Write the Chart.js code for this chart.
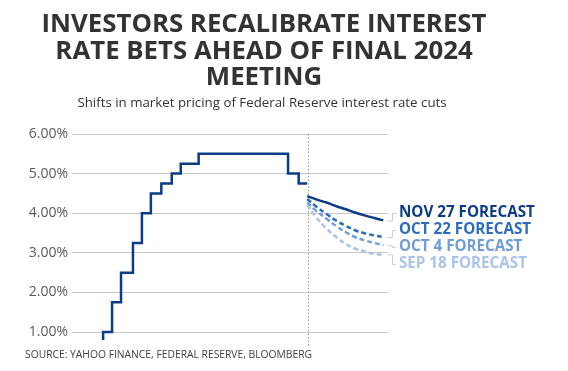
<!DOCTYPE html>
<html>
<head>
<meta charset="utf-8">
<script src="https://cdn.jsdelivr.net/npm/chart.js@4/dist/chart.umd.min.js"></script>
<style>
  html, body { margin: 0; padding: 0; background: #ffffff; }
  #wrap { width: 568px; height: 371px; position: relative; }
</style>
</head>
<body>
<div id="wrap"><canvas id="c" width="568" height="371"></canvas></div>
<script>
// ---- data ----
const titleLines = ['INVESTORS RECALIBRATE INTEREST', 'RATE BETS AHEAD OF FINAL 2024', 'MEETING'];
const subtitleText = 'Shifts in market pricing of Federal Reserve interest rate cuts';
const sourceText = 'SOURCE: YAHOO FINANCE, FEDERAL RESERVE, BLOOMBERG';

const rateDates = ['2022-03-17','2022-05-05','2022-06-16','2022-07-28','2022-09-22','2022-11-03','2022-12-15','2023-02-02','2023-03-23','2023-05-04','2023-07-27','2024-09-19','2024-11-08','2024-12-18'];
const rateValues = [0.5, 1.0, 1.75, 2.5, 3.25, 4.0, 4.5, 4.75, 5.0, 5.25, 5.5, 5.0, 4.75, 4.75];

const forecastDates = ['2024-12-18','2025-01-29','2025-03-19','2025-05-07','2025-06-18','2025-07-30','2025-09-17','2025-10-29','2025-12-10'];
const nov27 = [4.43, 4.35, 4.27, 4.17, 4.10, 4.02, 3.94, 3.88, 3.82];
const oct22 = [4.36, 4.17, 3.98, 3.80, 3.68, 3.57, 3.49, 3.44, 3.40];
const oct4  = [4.27, 4.06, 3.86, 3.66, 3.52, 3.40, 3.31, 3.25, 3.19];
const sep18 = [4.21, 3.90, 3.61, 3.38, 3.22, 3.11, 3.03, 2.97, 2.96];

const forecastNames = ['NOV 27 FORECAST', 'OCT 22 FORECAST', 'OCT 4 FORECAST', 'SEP 18 FORECAST'];
const yTicks = [1, 2, 3, 4, 5, 6];
const todayDate = '2024-12-20';

// ---- helpers ----
function toYear(s) {
  const d = new Date(s + 'T00:00:00Z');
  const y = d.getUTCFullYear();
  const a = Date.UTC(y, 0, 1), b = Date.UTC(y + 1, 0, 1);
  return y + (d.getTime() - a) / (b - a);
}
function pts(dates, vals) { return dates.map((d, i) => ({ x: toYear(d), y: vals[i] })); }

const colors = ['#0b3c85', '#2d6cbd', '#6e9dd7', '#a9c4e8'];
const labelYs = [213, 230, 247, 264];
const FONT = '"Open Sans", "Noto Sans", sans-serif';

const decor = {
  id: 'decor',
  beforeDatasetsDraw(chart) {
    const { ctx, chartArea, scales } = chart;
    const x = scales.x.getPixelForValue(toYear(todayDate));
    ctx.save();
    ctx.strokeStyle = '#9a9a9a';
    ctx.lineWidth = 1;
    ctx.setLineDash([1.5, 2]);
    ctx.beginPath();
    ctx.moveTo(Math.round(x) + 0.5, chartArea.top);
    ctx.lineTo(Math.round(x) + 0.5, chartArea.bottom + 6);
    ctx.stroke();
    ctx.restore();
  },
  afterDraw(chart) {
    const { ctx, scales } = chart;
    ctx.save();
    // title
    ctx.fillStyle = '#333333';
    ctx.textAlign = 'center';
    ctx.textBaseline = 'middle';
    ctx.font = 'bold 25.8px ' + FONT;
    titleLines.forEach((t, i) => ctx.fillText(t, 264, 25 + i * 26.5));
    ctx.font = '13.3px ' + FONT;
    ctx.fillText(subtitleText, 262, 103);
    // source
    ctx.textAlign = 'left';
    ctx.fillStyle = '#404040';
    ctx.font = '10.3px ' + FONT;
    ctx.fillText(sourceText, 25, 355);
    // forecast labels with connectors
    const series = [nov27, oct22, oct4, sep18];
    const lastX = toYear(forecastDates[forecastDates.length - 1]);
    series.forEach((s, i) => {
      const ex = scales.x.getPixelForValue(lastX);
      const ey = scales.y.getPixelForValue(s[s.length - 1]);
      const ly = labelYs[i];
      ctx.strokeStyle = '#cfcfcf';
      ctx.lineWidth = 1;
      ctx.setLineDash([]);
      ctx.beginPath();
      ctx.moveTo(ex + 4, ey + 0.5);
      ctx.lineTo(392.5, ey + 0.5);
      ctx.lineTo(392.5, ly + 0.5);
      ctx.lineTo(396, ly + 0.5);
      ctx.stroke();
      ctx.fillStyle = colors[i];
      ctx.font = 'bold 15.2px ' + FONT;
      ctx.textBaseline = 'middle';
      ctx.fillText(forecastNames[i], 399, ly);
    });
    ctx.restore();
  }
};

const fc = (name, vals, i, dash) => ({
  label: name,
  data: pts(forecastDates, vals),
  borderColor: colors[i],
  borderWidth: 2.5,
  borderDash: dash,
  tension: 0.4,
  pointRadius: 0,
  fill: false
});

new Chart(document.getElementById('c'), {
  type: 'line',
  data: {
    datasets: [
      fc(forecastNames[3], sep18, 3, [5, 3]),
      fc(forecastNames[2], oct4, 2, [5, 3]),
      fc(forecastNames[1], oct22, 1, [5, 3]),
      fc(forecastNames[0], nov27, 0, []),
      {
        label: 'Fed funds rate',
        data: pts(rateDates, rateValues),
        borderColor: colors[0],
        borderWidth: 2.5,
        stepped: 'before',
        pointRadius: 0,
        fill: false
      }
    ]
  },
  options: {
    responsive: false,
    animation: false,
    layout: { padding: { left: 0, right: 180, top: 134, bottom: 31 } },
    plugins: { legend: { display: false }, title: { display: false }, tooltip: { enabled: false } },
    scales: {
      x: { type: 'linear', min: 2021.94, max: 2026.0, display: false },
      y: {
        min: 0.8, max: 6.0,
        afterFit(s) { s.width = 72; },
        afterBuildTicks(s) { s.ticks = yTicks.map(v => ({ value: v })); },
        border: { display: false },
        grid: { color: '#c9c9c9', drawTicks: false, lineWidth: 1 },
        ticks: {
          padding: 4,
          color: '#5a5a5a',
          font: { family: FONT, size: 14 },
          callback: v => v.toFixed(2) + '%'
        }
      }
    }
  },
  plugins: [decor]
});
</script>
</body>
</html>
